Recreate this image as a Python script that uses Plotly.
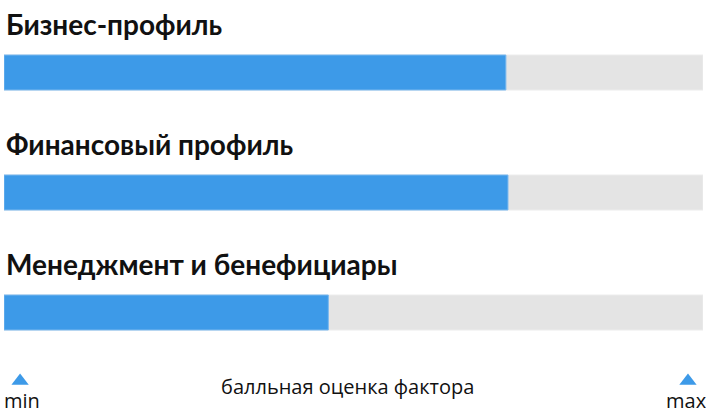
import plotly.graph_objects as go

# Data
factors = ['Бизнес-профиль', 'Финансовый профиль', 'Менеджмент и бенефициары']
scores = [71.8, 72.1, 46.4]
score_max = 100
scale_labels = ['min', 'max']
axis_caption = 'балльная оценка фактора'

blue = '#3d9ae8'
grey = '#e4e4e4'

# pixel geometry: rows every 120px, bar 35px tall, first bar centred at 72.5px
W, H = 706, 419
row_px = 120.0
y_top = -72.5 / row_px
y_bot = y_top + H / row_px
bar_w = 35 / row_px

pos = list(range(len(factors)))

fig = go.Figure()

# background track
fig.add_trace(go.Bar(
    y=pos, x=[score_max] * len(factors), orientation='h',
    width=bar_w, marker=dict(color=grey, line=dict(color='#ececec', width=1)),
    hoverinfo='skip', showlegend=False,
))
# score
fig.add_trace(go.Bar(
    y=pos, x=scores, orientation='h',
    width=bar_w, marker=dict(color=blue, line=dict(color='#7ab8ee', width=1)),
    customdata=factors, hovertemplate='%{customdata}: %{x}<extra></extra>',
    showlegend=False,
))

# min / max markers
tri_y = y_top + 381 / row_px
fig.add_trace(go.Scatter(
    x=[2.3, 97.85], y=[tri_y, tri_y], mode='markers',
    marker=dict(symbol='triangle-up', size=15, color=blue),
    hoverinfo='skip', showlegend=False, cliponaxis=False,
))

annotations = []
for i, name in enumerate(factors):
    annotations.append(dict(
        text='<b>' + name + '</b>', x=0, xref='paper', xanchor='left', xshift=0,
        y=i - (72.5 - 24) / row_px, yref='y', yanchor='middle',
        showarrow=False, font=dict(family='Lato', size=28, color='#111111'),
    ))

lab_y = y_top + 400 / row_px
annotations.append(dict(text=scale_labels[0], x=2.6, y=lab_y, xref='x', yref='y',
                        showarrow=False, xanchor='center', yanchor='middle',
                        font=dict(family='Open Sans', size=20, color='#111111')))
annotations.append(dict(text=scale_labels[1], x=97.7, y=lab_y, xref='x', yref='y',
                        showarrow=False, xanchor='center', yanchor='middle',
                        font=dict(family='Open Sans', size=20, color='#111111')))
annotations.append(dict(text=axis_caption, x=49.1, y=y_top + 386 / row_px,
                        xref='x', yref='y', showarrow=False,
                        xanchor='center', yanchor='middle',
                        font=dict(family='Open Sans', size=20, color='#111111')))

fig.update_layout(
    width=W, height=H,
    margin=dict(l=4, r=3, t=0, b=0),
    barmode='overlay',
    plot_bgcolor='white', paper_bgcolor='white',
    xaxis=dict(range=[0, score_max], visible=False, fixedrange=True),
    yaxis=dict(range=[y_bot, y_top], visible=False, fixedrange=True),
    annotations=annotations,
)

# the page's default body margin would push the chart off the window
fig.write_html('out.html', config={'displayModeBar': False},
               post_script="document.body.style.margin='0';")
